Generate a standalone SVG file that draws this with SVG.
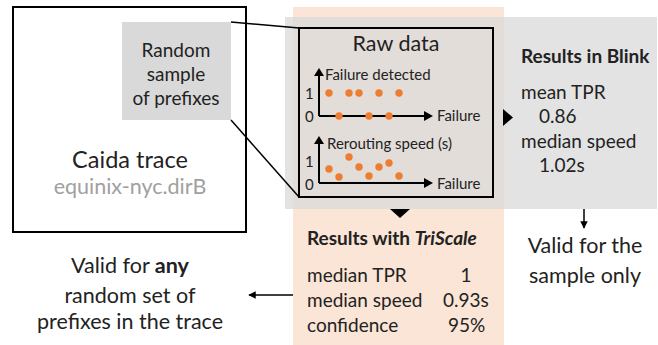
<svg xmlns="http://www.w3.org/2000/svg" width="658" height="345" viewBox="0 0 658 345">
<style>
text{font-family:Lato,"Liberation Sans",sans-serif;fill:#222}
.t18{font-size:19px}
.t20{font-size:21.5px}
.t14{font-size:15px}
.b{font-weight:bold}
.c{text-anchor:middle}
.ax{stroke:#000;stroke-width:2;fill:none}
.dot{fill:#ed7d31}
.ln{stroke:#000;stroke-width:1.5;fill:none}
</style>
<defs>
<marker id="ah" viewBox="0 0 10 10" refX="9" refY="5" markerWidth="5" markerHeight="5" orient="auto-start-reverse">
<path d="M0,0 L10,5 L0,10 z" fill="#000"/>
</marker>
</defs>
<rect x="293" y="7" width="211" height="338" fill="#fbe5d6"/>
<rect x="285" y="17" width="372" height="192" fill="#d9d9d9" fill-opacity="0.75"/>

<g id="caida">
<rect x="13" y="7" width="233" height="225" fill="#fff" stroke="#000" stroke-width="2"/>
<text class="c" x="130" y="168" style="font-size:23.5px">Caida trace</text>
<text class="c" x="130" y="194" style="font-size:21.5px;fill:#a0a0a0">equinix-nyc.dirB</text>
</g>
<g id="sample">
<rect x="122" y="22" width="109" height="98" fill="#d9d9d9"/>
<text class="c t18" x="176" y="57">Random</text>
<text class="c t18" x="176" y="81">sample</text>
<text class="c t18" x="176" y="105">of prefixes</text>
</g>
<g id="connectors">
<line class="ln" x1="231" y1="22" x2="299" y2="28"/>
<line class="ln" x1="231" y1="120" x2="299" y2="197"/>
<path d="M503,109 L513,117.5 L503,126 z" fill="#000"/>
<path d="M390,209 L410,209 L400,218 z" fill="#000"/>
<line class="ln" x1="584" y1="209" x2="584" y2="228" marker-end="url(#ah)"/>
<line class="ln" x1="293" y1="295" x2="249" y2="295" marker-end="url(#ah)"/>
</g>
<g id="rawdata">
<rect x="299" y="28" width="194" height="169" fill="none" stroke="#000" stroke-width="2"/>
<text class="c t20" x="396" y="51">Raw data</text>
<g id="plot1">
<path class="ax" d="M319,116 V74"/>
<path d="M314,76 L319,68 L324,76 z"/>
<path class="ax" d="M319,116 H426"/>
<path d="M424,111 L433,116 L424,121 z"/>
<text class="t14" x="325" y="80">Failure detected</text>
<text class="t14" x="305" y="99">1</text>
<text class="t14" x="305" y="122">0</text>
<text class="t14" x="437" y="121">Failure</text>
<circle class="dot" cx="329" cy="93" r="3.7"/><circle class="dot" cx="349" cy="93" r="3.7"/><circle class="dot" cx="359" cy="93" r="3.7"/><circle class="dot" cx="379" cy="93" r="3.7"/><circle class="dot" cx="399" cy="93" r="3.7"/>
<circle class="dot" cx="339" cy="116" r="3.7"/><circle class="dot" cx="369" cy="116" r="3.7"/><circle class="dot" cx="389" cy="116" r="3.7"/>
</g>
<g id="plot2">
<path class="ax" d="M319,183 V142"/>
<path d="M314,144 L319,136 L324,144 z"/>
<path class="ax" d="M319,183 H426"/>
<path d="M424,178 L433,183 L424,188 z"/>
<text class="t14" x="327" y="149">Rerouting speed (s)</text>
<text class="t14" x="305" y="167">1</text>
<text class="t14" x="305" y="190">0</text>
<text class="t14" x="437" y="189">Failure</text>
<circle class="dot" cx="329" cy="169" r="3.7"/><circle class="dot" cx="339" cy="177" r="3.7"/><circle class="dot" cx="349" cy="157" r="3.7"/><circle class="dot" cx="359" cy="167" r="3.7"/><circle class="dot" cx="369" cy="176" r="3.7"/><circle class="dot" cx="379" cy="167" r="3.7"/><circle class="dot" cx="389" cy="163" r="3.7"/><circle class="dot" cx="399" cy="176" r="3.7"/>
</g>
</g>
<g id="blink">
<text class="t18 b" x="521" y="63">Results in Blink</text>
<text class="t18" x="521" y="99">mean TPR</text>
<text class="t18" x="539" y="123">0.86</text>
<text class="t18" x="521" y="148">median speed</text>
<text class="t18" x="539" y="172">1.02s</text>
</g>
<g id="valid-sample">
<text class="c t20" x="585" y="253">Valid for the</text>
<text class="c t20" x="585" y="283">sample only</text>
</g>
<g id="triscale">
<text class="t18 b" x="307" y="245">Results with <tspan font-style="italic">TriScale</tspan></text>
<text class="t18" x="307" y="282">median TPR</text>
<text class="t18 c" x="466" y="282">1</text>
<text class="t18" x="307" y="307">median speed</text>
<text class="t18" x="443" y="307">0.93s</text>
<text class="t18" x="307" y="332">confidence</text>
<text class="t18" x="448" y="332">95%</text>
</g>
<g id="valid-any">
<text class="c t20" x="130" y="273">Valid for <tspan class="b">any</tspan></text>
<text class="c t20" x="130" y="303">random set of</text>
<text class="c t20" x="130" y="329">prefixes in the trace</text>
</g>
</svg>
